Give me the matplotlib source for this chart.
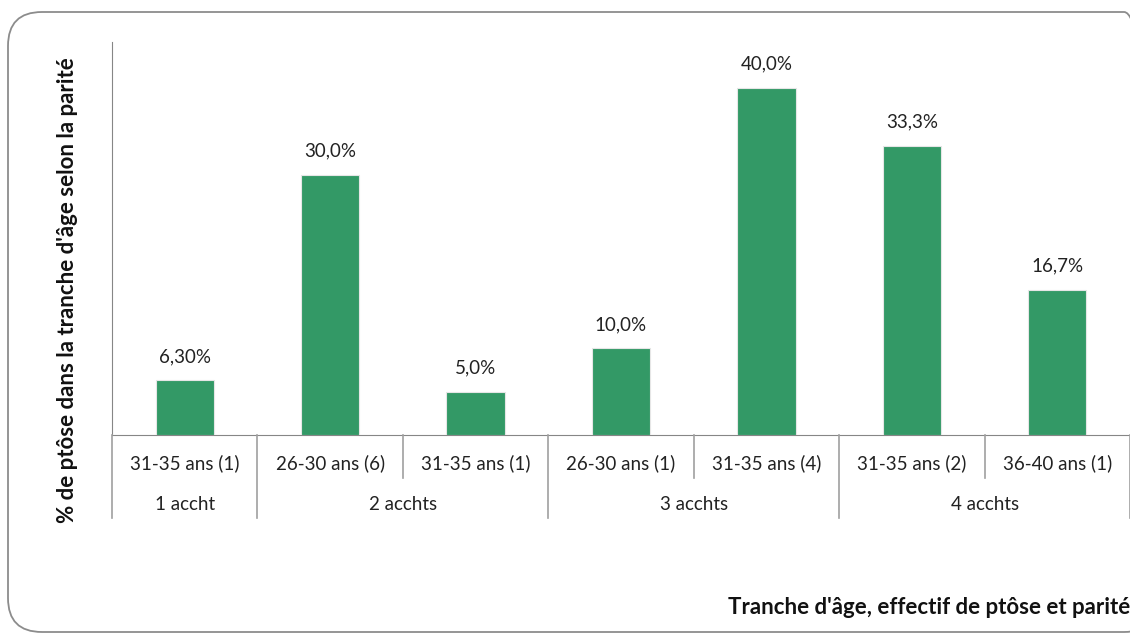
import matplotlib
matplotlib.use("Agg")
import matplotlib.pyplot as plt
from matplotlib.patches import FancyBboxPatch
from matplotlib.lines import Line2D
import matplotlib.transforms as mtransforms

plt.rcParams['font.family'] = ['Lato', 'DejaVu Sans']

categories = ["31-35 ans (1)", "26-30 ans (6)", "31-35 ans (1)", "26-30 ans (1)",
              "31-35 ans (4)", "31-35 ans (2)", "36-40 ans (1)"]
groups = ["1 accht", "2 acchts", "3 acchts", "4 acchts"]
group_sizes = [1, 2, 2, 2]
values = [6.3, 30.0, 5.0, 10.0, 40.0, 33.3, 16.7]
value_labels = ["6,30%", "30,0%", "5,0%", "10,0%", "40,0%", "33,3%", "16,7%"]

W, H = 1130, 636
fig = plt.figure(figsize=(W / 100, H / 100), dpi=100)
fig.patch.set_facecolor("white")

# rounded frame
frame = FancyBboxPatch((8 / W, 4 / H), (W + 20) / W, (H - 16) / H,
                       boxstyle="round,pad=0,rounding_size=0.03",
                       transform=fig.transFigure, fill=False,
                       edgecolor="#8c8c8c", linewidth=1.3, mutation_aspect=W / H)
fig.patches.append(frame)

ax = fig.add_axes([112 / W, 1 - 435 / H, (1130 - 112) / W, (435 - 42) / H])
x = list(range(len(values)))
ax.bar(x, values, width=0.4, color="#339966", edgecolor="#e6e6e6", linewidth=0.8, zorder=3)
for xi, v, lab in zip(x, values, value_labels):
    ax.annotate(lab, (xi, v), xytext=(0, 11), textcoords="offset points",
                ha="center", va="bottom", fontsize=13.5, color="#222222")

ax.set_xlim(-0.5, len(values) - 0.5)
ax.set_ylim(0, 45.3)
ax.set_xticks([])
ax.set_yticks([])
for s in ["top", "right"]:
    ax.spines[s].set_visible(False)
ax.spines["left"].set_color("#868686")
ax.spines["bottom"].set_color("#868686")
ax.set_facecolor("none")

trans = mtransforms.blended_transform_factory(ax.transData, fig.transFigure)
line_col = "#a0a0a0"

def fy(py):
    return 1 - py / H

# category labels
for xi, c in zip(x, categories):
    ax.text(xi, fy(463), c, transform=trans, ha="center", va="center", fontsize=13.5, color="#222222")

# group labels and separators
start = 0
bounds_group = [-0.5]
for g, n in zip(groups, group_sizes):
    center = start + (n - 1) / 2
    ax.text(center, fy(504), g, transform=trans, ha="center", va="center", fontsize=13.5, color="#222222")
    for k in range(1, n):
        xb = start + k - 0.5
        fig.add_artist(Line2D([xb, xb], [fy(435), fy(478)], transform=trans, color=line_col, lw=1.2))
    start += n
    bounds_group.append(start - 0.5)
for xb in bounds_group:
    fig.add_artist(Line2D([xb, xb], [fy(435), fy(518)], transform=trans, color=line_col, lw=1.2))

fig.text(68 / W, fy(290), "% de ptôse dans la tranche d'âge selon la parité", rotation=90,
         ha="center", va="center", fontsize=16, fontweight="bold", color="#111111")
fig.text(728 / W, fy(608), "Tranche d'âge, effectif de ptôse et parité", ha="left", va="center",
         fontsize=16, fontweight="bold", color="#111111")

fig.savefig("out.png", dpi=100, facecolor="white")
